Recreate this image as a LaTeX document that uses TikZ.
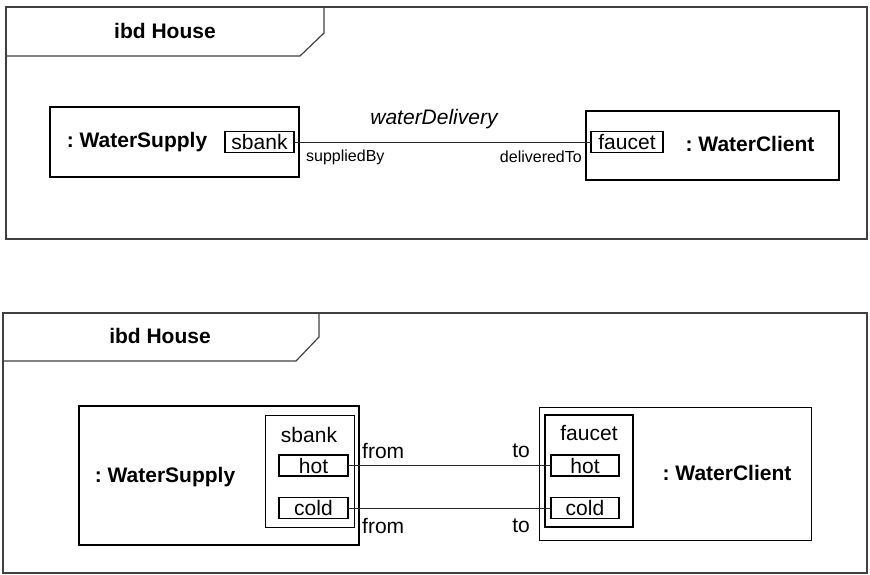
\documentclass[tikz,border=0pt]{standalone}
\usepackage{fontspec}
\setmainfont{Liberation Sans}
\frenchspacing
\begin{document}
\begin{tikzpicture}[x=1pt,y=-1pt,
  frame/.style={draw=black!75,line width=1.2pt},
  part/.style={draw=black,line width=1.3pt,inner sep=0pt,outer sep=0pt,rectangle},
  port/.style={draw=black,line width=1.2pt,inner sep=0pt,outer sep=0pt,rectangle,font=\fontsize{21}{24}\selectfont},
  conn/.style={draw=black!85,line width=1pt},
  big/.style={font=\fontsize{21}{24}\selectfont},
  bigb/.style={font=\fontsize{21}{24}\selectfont\bfseries},
  small/.style={font=\fontsize{16}{19}\selectfont},
  every node/.style={inner sep=0pt}]
\useasboundingbox (0,0) rectangle (870,574);
% ---------- top diagram ----------
\draw[frame] (6,7) rectangle (867,239);
\draw[frame] (6,56) -- (300,56) -- (324,33) -- (324,7);
\node[bigb] (t1) at (165,31) {ibd House};
\node[part,minimum width=249pt,minimum height=70pt] (ws1) at (174.5,142) {};
\node[bigb] (ws1t) at (137,142) {: WaterSupply};
\node[port,minimum width=69pt,minimum height=21pt] (sb1) at (259.5,142) {sbank};
\node[part,minimum width=253pt,minimum height=69pt] (wc1) at (712.5,145.5) {};
\node[bigb] (wc1t) at (750,144) {: WaterClient};
\node[port,minimum width=72pt,minimum height=21pt] (fc1) at (627,142) {faucet};
\draw[conn] (sb1.east) -- (fc1.west);
\node[big,font=\fontsize{21}{24}\selectfont\itshape] (wd) at (434,119) {waterDelivery};
\node[small,anchor=west] (sup) at (306,157) {suppliedBy};
\node[small,anchor=east] (del) at (582,157) {deliveredTo};
% ---------- bottom diagram ----------
\draw[frame] (3,313) rectangle (867,573);
\draw[frame] (3,361) -- (296,361) -- (319,337) -- (319,313);
\node[bigb] (t2) at (160,336) {ibd House};
\node[part,minimum width=280pt,minimum height=139pt] (ws2) at (219,475.5) {};
\node[bigb] (ws2t) at (165,477) {: WaterSupply};
\node[part,line width=1pt,minimum width=89pt,minimum height=112pt] (sb2) at (309.5,471) {};
\node[big] (sb2t) at (309,435) {sbank};
\node[port,minimum width=69pt,minimum height=21pt] (hs) at (313.5,465.5) {hot};
\node[port,minimum width=69pt,minimum height=21pt] (cs) at (313.5,508) {cold};
\node[part,line width=1pt,minimum width=272pt,minimum height=133pt] (wc2) at (675,473.5) {};
\node[bigb] (wc2t) at (727,473) {: WaterClient};
\node[part,line width=1.5pt,minimum width=88pt,minimum height=112pt] (fc2) at (589,471) {};
\node[big] (fc2t) at (589,433) {faucet};
\node[port,minimum width=68pt,minimum height=21pt] (hc) at (585,465.5) {hot};
\node[port,minimum width=68pt,minimum height=21pt] (cc) at (585,508) {cold};
\draw[conn] (hs.east) -- (hc.west);
\draw[conn] (cs.east) -- (cc.west);
\node[big,anchor=west] (f1) at (362,451) {from};
\node[big,anchor=west] (f2) at (362,526) {from};
\node[big,anchor=east] (to1) at (530,451) {to};
\node[big,anchor=east] (to2) at (530,526) {to};
\end{tikzpicture}
\end{document}
